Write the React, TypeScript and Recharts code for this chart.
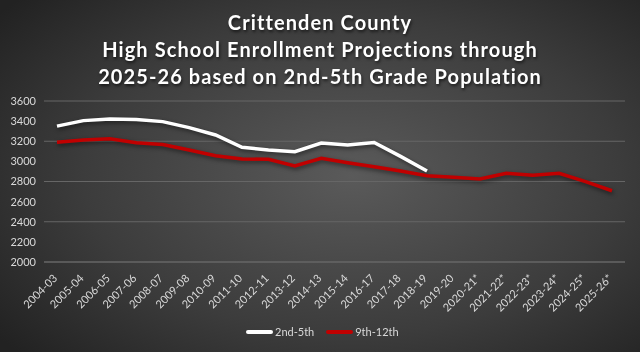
import React from 'react';
import {
  LineChart,
  Line,
  XAxis,
  YAxis,
  CartesianGrid,
} from 'recharts';

const years = [
  '2004-03', '2005-04', '2006-05', '2007-06', '2008-07', '2009-08', '2010-09',
  '2011-10', '2012-11', '2013-12', '2014-13', '2015-14', '2016-17', '2017-18',
  '2018-19', '2019-20', '2020-21*', '2021-22*', '2022-23*', '2023-24*',
  '2024-25*', '2025-26*',
];

const grades2to5: (number | null)[] = [
  3350, 3405, 3420, 3415, 3395, 3335, 3262, 3140, 3113, 3096, 3182, 3163,
  3188, 3050, 2905, null, null, null, null, null, null, null,
];

const grades9to12 = [
  3190, 3212, 3225, 3185, 3168, 3113, 3056, 3024, 3020, 2954, 3030, 2987,
  2947, 2904, 2858, 2842, 2825, 2881, 2861, 2881, 2798, 2708,
];

const yTicks = [2000, 2200, 2400, 2600, 2800, 3000, 3200, 3400, 3600];

const titleLines = [
  'Crittenden County',
  'High School Enrollment Projections through',
  '2025-26 based on 2nd-5th Grade Population',
];

const data = years.map((year, i) => ({
  year,
  lower: grades2to5[i],
  upper: grades9to12[i],
}));

const FONT = 'Lato, "Open Sans", sans-serif';

function YearTick(props: any) {
  const { x, y, payload } = props;
  return (
    <g transform={`translate(${x + 1}, ${y + 9})`}>
      <text
        x={0}
        y={0}
        textAnchor="end"
        fill="#d9d9d9"
        fontSize={11}
        fontFamily={FONT}
        transform="rotate(-45)"
      >
        {payload.value}
      </text>
    </g>
  );
}

function LegendRow() {
  const items = [
    { label: '2nd-5th', color: '#ffffff' },
    { label: '9th-12th', color: '#c00000' },
  ];
  return (
    <div style={{ position: 'absolute', top: 325, left: 246, display: 'flex', alignItems: 'center', gap: 12 }}>
      {items.map((it) => (
        <div key={it.label} style={{ display: 'flex', alignItems: 'center' }}>
          <div style={{ width: 27, height: 4, background: it.color, borderRadius: 2, marginRight: 2 }} />
          <span style={{ color: '#d9d9d9', fontSize: 11, fontFamily: FONT }}>{it.label}</span>
        </div>
      ))}
    </div>
  );
}

export default function App() {
  return (
    <div
      style={{
        position: 'fixed',
        left: 0,
        top: 0,
        width: 640,
        height: 352,
        background: 'radial-gradient(ellipse 70% 75% at 55% 50%, #5a5a5a 0%, #3c3c3c 60%, #222222 100%)',
        overflow: 'hidden',
      }}
    >
      <div
        style={{
          position: 'absolute',
          top: 9,
          left: 0,
          width: 640,
          textAlign: 'center',
          color: '#ffffff',
          fontFamily: FONT,
          fontWeight: 700,
          fontSize: 20,
          lineHeight: '27px',
          letterSpacing: 1.1,
          textShadow: '1px 2px 3px rgba(0,0,0,0.6)',
        }}
      >
        {titleLines.map((t) => (
          <div key={t}>{t}</div>
        ))}
      </div>
      <LineChart
        width={640}
        height={352}
        data={data}
        margin={{ top: 101, right: 15, left: 0, bottom: 30 }}
      >
        <CartesianGrid vertical={false} stroke="#666666" strokeWidth={1} />
        <XAxis
          dataKey="year"
          interval={0}
          height={60}
          padding={{ left: 13, right: 13 }}
          tick={<YearTick />}
          tickLine={false}
          axisLine={{ stroke: '#666666' }}
        />
        <YAxis
          width={44}
          domain={[2000, 3600]}
          ticks={yTicks}
          axisLine={false}
          tickLine={false}
          tick={{ fill: '#d9d9d9', fontSize: 11, fontFamily: FONT }}
        />
        <Line
          type="linear"
          dataKey="lower"
          stroke="#ffffff"
          strokeWidth={3.5}
          dot={false}
          isAnimationActive={false}
          connectNulls={false}
          style={{ filter: 'drop-shadow(1px 2px 2px rgba(0,0,0,0.5))' }}
        />
        <Line
          type="linear"
          dataKey="upper"
          stroke="#c00000"
          strokeWidth={3.5}
          dot={false}
          isAnimationActive={false}
          style={{ filter: 'drop-shadow(1px 2px 2px rgba(0,0,0,0.5))' }}
        />
      </LineChart>
      <LegendRow />
    </div>
  );
}
